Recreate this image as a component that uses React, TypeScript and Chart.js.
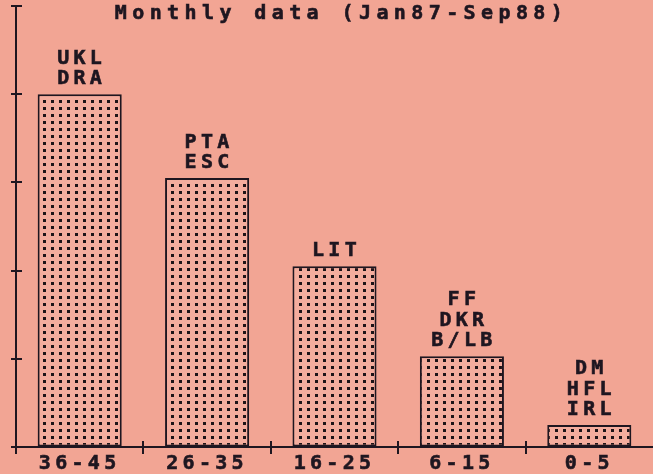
import React, { useEffect, useRef } from "react";
import { Chart, registerables } from "chart.js";
Chart.register(...registerables);

const categories = ["36-45", "26-35", "16-25", "6-15", "0-5"];
const values = [4.0, 3.05, 2.05, 1.03, 0.25];
const barLabels = [
  ["UKL", "DRA"],
  ["PTA", "ESC"],
  ["LIT"],
  ["FF", "DKR", "B/LB"],
  ["DM", "HFL", "IRL"],
];
const titleText = "Monthly data (Jan87-Sep88)";
const yMin = 0;
const yMax = 5;
const yStep = 1;

const BG = "#f2a594";
const INK = "#1e1620";
const FAMILY = "'DejaVu Sans Mono', 'Liberation Mono', monospace";
const SPACING = "4.3px";
const FONT_SIZE = 20;

const retroPlugin = {
  id: "retro",
  beforeUpdate(chart: any) {
    chart.ctx.letterSpacing = SPACING;
  },
  beforeDraw(chart: any) {
    chart.ctx.letterSpacing = SPACING;
  },
  afterDraw(chart: any) {
    const ctx = chart.ctx;
    const { left, right, top, bottom } = chart.chartArea;
    const xs = chart.scales.x;
    const ys = chart.scales.y;
    ctx.save();
    ctx.strokeStyle = INK;
    ctx.lineWidth = 2;
    ys.ticks.forEach((t: any) => {
      const py = Math.round(ys.getPixelForValue(t.value));
      ctx.beginPath();
      ctx.moveTo(left - 5, py);
      ctx.lineTo(left + 6, py);
      ctx.stroke();
    });
    for (let i = 0; i < categories.length; i++) {
      const px =
        i === 0
          ? left
          : (xs.getPixelForValue(i - 1) + xs.getPixelForValue(i)) / 2;
      ctx.beginPath();
      ctx.moveTo(Math.round(px), bottom - 6);
      ctx.lineTo(Math.round(px), bottom + 7);
      ctx.stroke();
    }
    ctx.fillStyle = INK;
    ctx.strokeStyle = INK;
    ctx.lineWidth = 0.6;
    ctx.textAlign = "center";
    ctx.textBaseline = "middle";
    ctx.font = `bold ${FONT_SIZE}px ${FAMILY}`;
    ctx.letterSpacing = "5.4px";
    const tx = (left + right) / 2 + 7;
    ctx.fillText(titleText, tx, top + 8);
    ctx.strokeText(titleText, tx, top + 8);
    ctx.letterSpacing = SPACING;
    const meta = chart.getDatasetMeta(0);
    meta.data.forEach((bar: any, i: number) => {
      const lines = barLabels[i];
      lines.forEach((s, j) => {
        const y = bar.y - 15 - (lines.length - 1 - j) * 20.5;
        ctx.fillText(s, bar.x + 2, y);
        ctx.strokeText(s, bar.x + 2, y);
      });
    });
    ctx.restore();
  },
};

export default function App() {
  const ref = useRef<HTMLCanvasElement | null>(null);
  useEffect(() => {
    document.body.style.margin = "0";
    document.body.style.background = BG;
    const canvas = ref.current;
    if (!canvas) return;
    const tile = document.createElement("canvas");
    tile.width = 8;
    tile.height = 7;
    const tctx = tile.getContext("2d")!;
    tctx.fillStyle = "#f4ad9e";
    tctx.fillRect(0, 0, 8, 7);
    tctx.fillStyle = "#1e1418";
    tctx.fillRect(3, 2, 3, 3);
    const ctx = canvas.getContext("2d")!;
    const pattern = ctx.createPattern(tile, "repeat");

    const chart = new Chart(canvas, {
      type: "bar",
      data: {
        labels: categories,
        datasets: [
          {
            data: values,
            backgroundColor: pattern as any,
            borderColor: INK,
            borderWidth: 2,
            borderSkipped: false,
            barPercentage: 0.66,
            categoryPercentage: 1,
          },
        ],
      },
      options: {
        animation: false,
        responsive: false,
        devicePixelRatio: 1,
        layout: { padding: { left: 16, right: 0, top: 6, bottom: -7 } },
        plugins: {
          legend: { display: false },
          tooltip: { enabled: false },
          title: { display: false },
        },
        scales: {
          x: {
            type: "category",
            offset: true,
            grid: { display: true, drawOnChartArea: false, drawTicks: false },
            border: { display: true, color: INK, width: 2 },
            ticks: {
              color: INK,
              font: { family: FAMILY, size: FONT_SIZE, weight: "bold" },
              textStrokeColor: INK,
              textStrokeWidth: 0.6,
              padding: 5,
              maxRotation: 0,
              autoSkip: false,
            },
          },
          y: {
            min: yMin,
            max: yMax,
            ticks: { display: false, stepSize: yStep },
            grid: { display: true, drawOnChartArea: false, drawTicks: false },
            border: { display: true, color: INK, width: 2 },
          },
        },
      },
      plugins: [retroPlugin],
    });
    return () => chart.destroy();
  }, []);
  return (
    <div style={{ width: 653, height: 474, background: BG }}>
      <canvas ref={ref} width={653} height={474} />
    </div>
  );
}
